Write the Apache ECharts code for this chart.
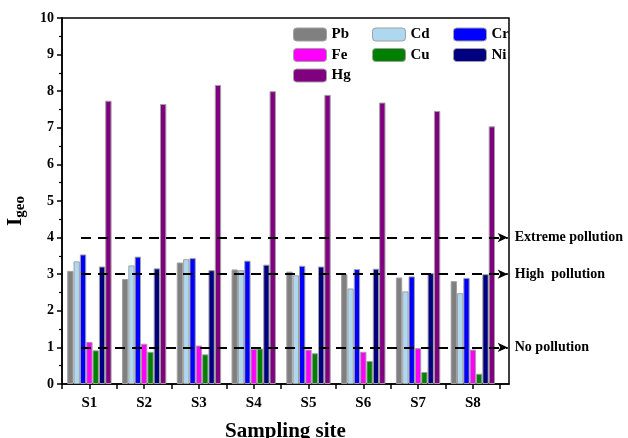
<!DOCTYPE html>
<html><head><meta charset="utf-8">
<script src="https://cdn.jsdelivr.net/npm/echarts@6/dist/echarts.min.js"></script>
<style>html,body{margin:0;padding:0;background:#fff}#c{width:628px;height:438px}</style>
</head><body><div id="c"></div>
<script>
const sites = ['S1','S2','S3','S4','S5','S6','S7','S8'];
const Pb = [3.09, 2.87, 3.32, 3.13, 3.07, 3.00, 2.91, 2.81];
const Cd = [3.35, 3.24, 3.41, 3.11, 2.97, 2.61, 2.53, 2.48];
const Cr = [3.54, 3.48, 3.44, 3.37, 3.23, 3.14, 2.94, 2.90];
const Fe = [1.15, 1.10, 1.05, 0.96, 0.94, 0.88, 0.98, 0.94];
const Cu = [0.92, 0.88, 0.81, 0.97, 0.84, 0.63, 0.33, 0.28];
const Ni = [3.21, 3.16, 3.11, 3.26, 3.21, 3.15, 3.03, 3.00];
const Hg = [7.74, 7.65, 8.17, 8.00, 7.90, 7.69, 7.46, 7.04];
const thresholds = [4, 3, 1];
const thresholdLabels = ['Extreme pollution', 'High  pollution', 'No pollution'];

const seriesDefs = [
  ['Pb', Pb, '#808080'],
  ['Cd', Cd, '#ADD8F0'],
  ['Cr', Cr, '#0000FF'],
  ['Fe', Fe, '#FF00FF'],
  ['Cu', Cu, '#008000'],
  ['Ni', Ni, '#000080'],
  ['Hg', Hg, '#800080']
];
const font = 'Liberation Serif';
const X_MIN = 0.5, X_MAX = 8.66, LINE_END = 8.29;

const series = seriesDefs.map(([name, vals, color], i) => {
  const s = {
    name, type: 'bar',
    data: vals.map((v, k) => [k + 1, v]),
    itemStyle: { color, borderColor: '#a0a0a0', borderWidth: 1 },
    barGap: '0%', barCategoryGap: '19%',
    emphasis: { disabled: true }
  };
  if (i === seriesDefs.length - 1) {
    s.markLine = {
      silent: true,
      symbol: ['none', 'arrow'],
      symbolSize: [7, 10],
      lineStyle: { color: '#000', type: [10, 7], width: 2 },
      label: {
        show: true, position: 'end', distance: 7,
        fontFamily: font, fontWeight: 'bold', fontSize: 14, color: '#000'
      },
      data: thresholds.map((t, k) => [
        { coord: [X_MIN, t], label: { formatter: thresholdLabels[k] } },
        { coord: [LINE_END, t] }
      ])
    };
  }
  return s;
});

const legendCommon = {
  orient: 'vertical', top: 22, itemWidth: 33, itemHeight: 13, itemGap: 5.5,
  textStyle: { fontFamily: font, fontWeight: 'bold', fontSize: 15, color: '#000' },
  itemStyle: { borderColor: '#a0a0a0', borderWidth: 1 },
  selectedMode: false
};

const chart = echarts.init(document.getElementById('c'));
chart.setOption({
  animation: false,
  backgroundColor: '#fff',
  grid: { left: 62, right: 119, top: 18, bottom: 54, outerBoundsMode: 'none', containLabel: false, show: true, borderColor: '#000', borderWidth: 1.5, backgroundColor: 'transparent' },
  legend: [
    Object.assign({ left: 288, data: ['Pb', 'Fe', 'Hg'] }, legendCommon),
    Object.assign({ left: 367, data: ['Cd', 'Cu'] }, legendCommon),
    Object.assign({ left: 448, data: ['Cr', 'Ni'] }, legendCommon)
  ],
  xAxis: {
    type: 'value', min: X_MIN, max: X_MAX, interval: 0.5,
    name: 'Sampling site', nameLocation: 'middle', nameGap: 37,
    nameTextStyle: { fontFamily: font, fontWeight: 'bold', fontSize: 21, color: '#000' },
    axisLine: { lineStyle: { color: '#000', width: 1.5 } },
    axisTick: { show: true, length: 5, lineStyle: { color: '#000', width: 1.5 } },
    splitLine: { show: false },
    axisLabel: {
      margin: 12, fontFamily: font, fontWeight: 'bold', fontSize: 15, color: '#000',
      showMaxLabel: false,
      formatter: v => (Number.isInteger(v) && v >= 1 && v <= sites.length) ? sites[v - 1] : ''
    }
  },
  yAxis: {
    type: 'value', min: 0, max: 10, interval: 1,
    name: '{a|I}{b|geo}', nameLocation: 'middle', nameGap: 34, nameRotate: 90,
    nameTextStyle: {
      rich: {
        a: { fontFamily: font, fontWeight: 'bold', fontSize: 21, color: '#000', lineHeight: 24 },
        b: { fontFamily: font, fontWeight: 'bold', fontSize: 15, color: '#000', verticalAlign: 'bottom', lineHeight: 24, padding: [8, 0, 0, 0] }
      },
      padding: [0, 20, 0, 0]
    },
    axisLine: { show: true, lineStyle: { color: '#000', width: 1.5 } },
    axisTick: { show: true, length: 5, lineStyle: { color: '#000', width: 1.5 } },
    minorTick: { show: true, splitNumber: 2, length: 3, lineStyle: { color: '#000', width: 1.2 } },
    splitLine: { show: false },
    axisLabel: { margin: 8, fontFamily: font, fontWeight: 'bold', fontSize: 14, color: '#000' }
  },
  series
});
</script>
</body></html>
